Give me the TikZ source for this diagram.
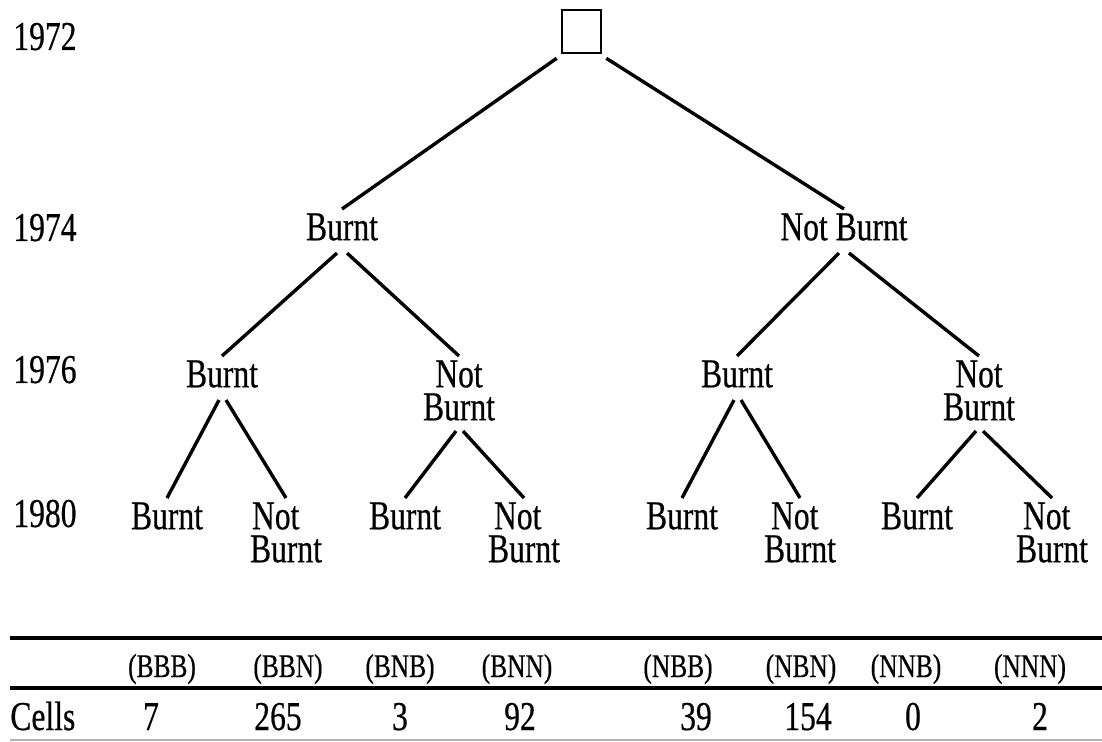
\documentclass[tikz,border=0pt]{standalone}
\usepackage{fontspec}
\setmainfont{Liberation Serif}[FakeStretch=0.77,FakeBold=0.5]
\begin{document}
\begin{tikzpicture}[x=0.5pt,y=-0.5pt,
  lbl/.style={font=\fontsize{20.5}{16.5}\selectfont, inner xsep=0pt, inner ysep=2pt, anchor=north},
  lbltwo/.style={lbl, align=center},
  lblleft/.style={lbl, align=left},
  yr/.style={font=\fontsize{20.5}{16.5}\selectfont, inner sep=0pt, anchor=base west},
  hdr/.style={font=\fontsize{16.5}{18}\selectfont, inner sep=0pt, anchor=base},
  val/.style={font=\fontsize{20.5}{16.5}\selectfont, inner sep=0pt, anchor=base},
  edge/.style={line width=1.7pt},
  rulel/.style={line width=1.6pt}]
\useasboundingbox (0,0) rectangle (1102,742);

% years
\node[yr] (y72) at (13,50) {1972};
\node[yr] (y74) at (13,241) {1974};
\node[yr] (y76) at (13,383) {1976};
\node[yr] (y80) at (13,527) {1980};

% root box
\node[draw, line width=1.3pt, minimum width=19.5pt, minimum height=21.5pt, inner sep=0pt] (root) at (581.5,31.5) {};

% 1974
\node[lbl] (b) at (342,209) {Burnt};
\node[lbl] (n) at (844,209) {Not Burnt};

% 1976
\node[lbl] (bb) at (222,356) {Burnt};
\node[lbltwo] (bn) at (459,356) {Not\\Burnt};
\node[lbl] (nb) at (737,356) {Burnt};
\node[lbltwo] (nn) at (979,356) {Not\\Burnt};

% 1980
\node[lbl] (bbb) at (167,498) {Burnt};
\node[lblleft] (bbn) at (286,498) {\hspace*{1pt}Not\\Burnt};
\node[lbl] (bnb) at (405,498) {Burnt};
\node[lblleft] (bnn) at (524,498) {\hspace*{3pt}Not\\Burnt};
\node[lbl] (nbb) at (682,498) {Burnt};
\node[lblleft] (nbn) at (800,498) {\hspace*{3.5pt}Not\\Burnt};
\node[lbl] (nnb) at (917,498) {Burnt};
\node[lblleft] (nnn) at (1052,498) {\hspace*{3.5pt}Not\\Burnt};

% edges
\draw[edge] ([shift={(-2pt,-2pt)}]root.south west) -- (b.north);
\draw[edge] ([shift={(2pt,-2pt)}]root.south east) -- (n.north);

\draw[edge] ([shift={(-2.5pt,-4pt)}]b.south) -- (bb.north);
\draw[edge] ([shift={(2.5pt,-4pt)}]b.south) -- (bn.north);
\draw[edge] ([shift={(-2.5pt,-4pt)}]n.south) -- (nb.north);
\draw[edge] ([shift={(2.5pt,-4pt)}]n.south) -- (nn.north);

\draw[edge] ([shift={(-1.5pt,-4pt)}]bb.south) -- (bbb.north);
\draw[edge] ([shift={(2pt,-4pt)}]bb.south) -- (bbn.north);
\draw[edge] ([shift={(-1.5pt,-3pt)}]bn.south) -- (bnb.north);
\draw[edge] ([shift={(2pt,-3pt)}]bn.south) -- (bnn.north);
\draw[edge] ([shift={(-1.5pt,-4pt)}]nb.south) -- (nbb.north);
\draw[edge] ([shift={(2pt,-4pt)}]nb.south) -- (nbn.north);
\draw[edge] ([shift={(-1.5pt,-3pt)}]nn.south) -- (nnb.north);
\draw[edge] ([shift={(2pt,-3pt)}]nn.south) -- (nnn.north);

% table
\coordinate (r1a) at (10,638);
\coordinate (r1b) at (1102,638);
\coordinate (r2a) at (10,688);
\coordinate (r2b) at (1102,688);
\coordinate (r3a) at (10,740);
\coordinate (r3b) at (1102,740);
\draw[rulel] (r1a) -- (r1b);
\draw[rulel] (r2a) -- (r2b);
\draw[line width=1pt, black!30] (r3a) -- (r3b);

\node[hdr] (h1) at (162,677) {(BBB)};
\node[hdr] (h2) at (288,677) {(BBN)};
\node[hdr] (h3) at (400,677) {(BNB)};
\node[hdr] (h4) at (517,677) {(BNN)};
\node[hdr] (h5) at (678,677) {(NBB)};
\node[hdr] (h6) at (801,677) {(NBN)};
\node[hdr] (h7) at (906,677) {(NNB)};
\node[hdr] (h8) at (1030,677) {(NNN)};

\node[yr] (cells) at (10,730) {Cells};
\node[val] (v1) at (151,730) {7};
\node[val] (v2) at (278,730) {265};
\node[val] (v3) at (400,730) {3};
\node[val] (v4) at (520,730) {92};
\node[val] (v5) at (696,730) {39};
\node[val] (v6) at (808,730) {154};
\node[val] (v7) at (913,730) {0};
\node[val] (v8) at (1040,730) {2};
\end{tikzpicture}
\end{document}
